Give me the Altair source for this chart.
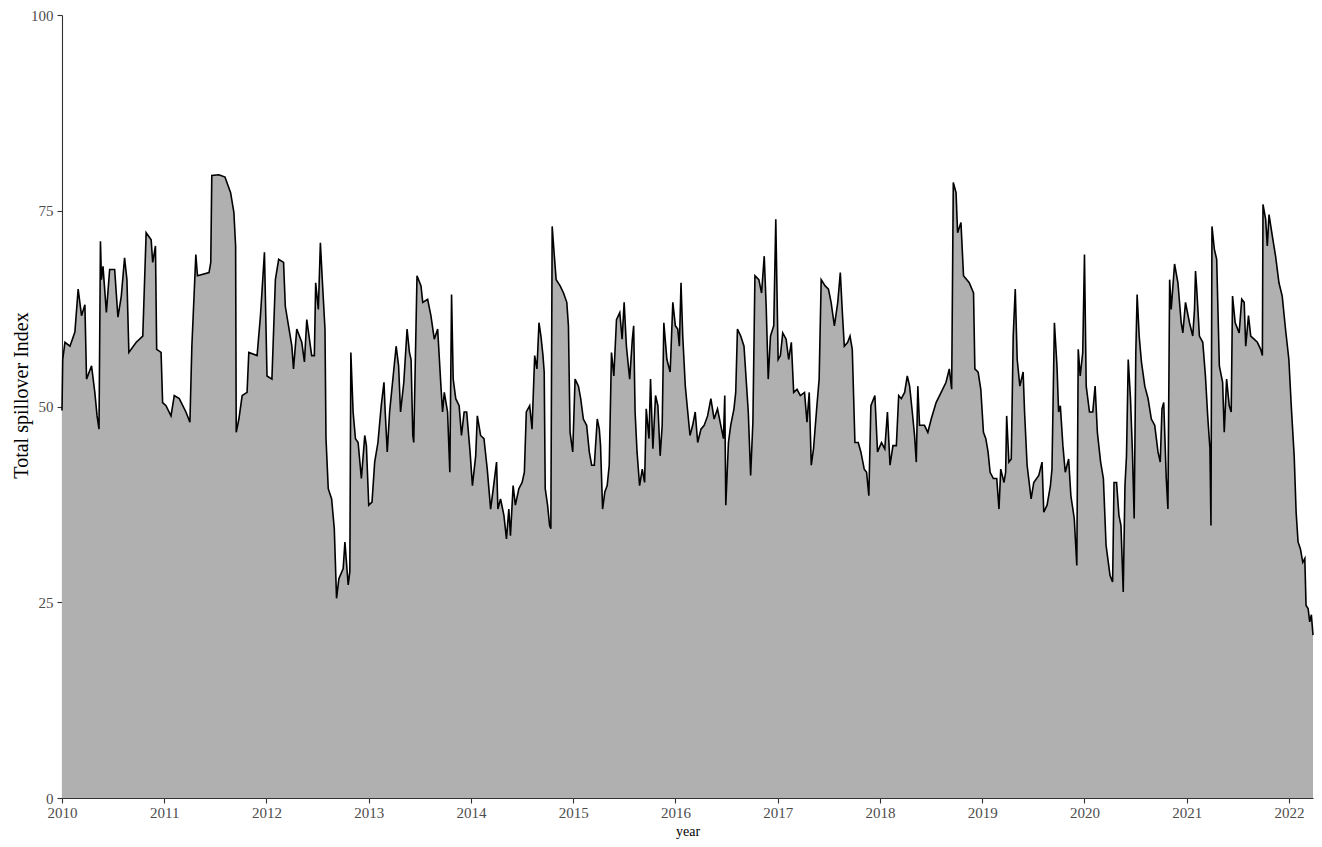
import altair as alt
import pandas as pd

# decimal year of each reading
years = [
    2010.000, 2010.007, 2010.029, 2010.078, 2010.126, 2010.158, 2010.191, 2010.224, 2010.240, 2010.289,
    2010.321, 2010.343, 2010.362, 2010.376, 2010.386, 2010.401, 2010.434, 2010.466, 2010.515, 2010.547,
    2010.580, 2010.612, 2010.635, 2010.654, 2010.726, 2010.790, 2010.823, 2010.872, 2010.887, 2010.914,
    2010.926, 2010.969, 2010.984, 2011.017, 2011.066, 2011.098, 2011.147, 2011.212, 2011.251, 2011.270,
    2011.309, 2011.325, 2011.438, 2011.455, 2011.465, 2011.535, 2011.594, 2011.649, 2011.681, 2011.698,
    2011.704, 2011.730, 2011.762, 2011.810, 2011.827, 2011.908, 2011.941, 2011.980, 2012.005, 2012.053,
    2012.087, 2012.119, 2012.167, 2012.184, 2012.248, 2012.264, 2012.296, 2012.345, 2012.371, 2012.394,
    2012.442, 2012.468, 2012.481, 2012.507, 2012.527, 2012.549, 2012.572, 2012.582, 2012.604, 2012.637,
    2012.663, 2012.685, 2012.708, 2012.750, 2012.767, 2012.799, 2012.815, 2012.825, 2012.847, 2012.870,
    2012.896, 2012.928, 2012.961, 2012.977, 2013.000, 2013.032, 2013.058, 2013.090, 2013.122, 2013.149,
    2013.161, 2013.181, 2013.204, 2013.236, 2013.268, 2013.292, 2013.311, 2013.343, 2013.375, 2013.398,
    2013.414, 2013.431, 2013.440, 2013.472, 2013.511, 2013.528, 2013.576, 2013.608, 2013.641, 2013.674,
    2013.706, 2013.722, 2013.739, 2013.771, 2013.793, 2013.810, 2013.826, 2013.851, 2013.884, 2013.907,
    2013.933, 2013.958, 2013.991, 2014.014, 2014.046, 2014.062, 2014.094, 2014.127, 2014.159, 2014.192,
    2014.218, 2014.250, 2014.263, 2014.289, 2014.322, 2014.347, 2014.370, 2014.386, 2014.412, 2014.434,
    2014.468, 2014.500, 2014.522, 2014.541, 2014.574, 2014.597, 2014.623, 2014.645, 2014.665, 2014.684,
    2014.704, 2014.716, 2014.726, 2014.749, 2014.769, 2014.781, 2014.794, 2014.813, 2014.833, 2014.872,
    2014.905, 2014.937, 2014.953, 2014.969, 2014.995, 2015.018, 2015.051, 2015.073, 2015.099, 2015.131,
    2015.157, 2015.180, 2015.206, 2015.235, 2015.255, 2015.267, 2015.287, 2015.309, 2015.332, 2015.352,
    2015.374, 2015.397, 2015.423, 2015.455, 2015.478, 2015.498, 2015.520, 2015.552, 2015.578, 2015.591,
    2015.605, 2015.624, 2015.649, 2015.675, 2015.698, 2015.714, 2015.741, 2015.756, 2015.779, 2015.805,
    2015.828, 2015.850, 2015.870, 2015.886, 2015.916, 2015.948, 2015.974, 2015.999, 2016.022, 2016.038,
    2016.054, 2016.071, 2016.096, 2016.120, 2016.142, 2016.168, 2016.193, 2016.217, 2016.249, 2016.281,
    2016.314, 2016.346, 2016.378, 2016.411, 2016.443, 2016.469, 2016.482, 2016.492, 2016.518, 2016.540,
    2016.572, 2016.589, 2016.606, 2016.638, 2016.670, 2016.693, 2016.712, 2016.735, 2016.757, 2016.777,
    2016.815, 2016.842, 2016.868, 2016.887, 2016.907, 2016.929, 2016.961, 2016.981, 2017.004, 2017.026,
    2017.049, 2017.082, 2017.107, 2017.133, 2017.156, 2017.189, 2017.221, 2017.262, 2017.286, 2017.308,
    2017.328, 2017.350, 2017.383, 2017.405, 2017.425, 2017.464, 2017.496, 2017.522, 2017.554, 2017.587,
    2017.612, 2017.632, 2017.651, 2017.684, 2017.707, 2017.729, 2017.755, 2017.787, 2017.813, 2017.846,
    2017.869, 2017.891, 2017.911, 2017.950, 2017.976, 2018.015, 2018.047, 2018.073, 2018.098, 2018.127,
    2018.160, 2018.183, 2018.209, 2018.241, 2018.267, 2018.290, 2018.316, 2018.338, 2018.355, 2018.370,
    2018.387, 2018.435, 2018.468, 2018.501, 2018.549, 2018.598, 2018.646, 2018.678, 2018.701, 2018.717,
    2018.744, 2018.759, 2018.792, 2018.817, 2018.873, 2018.915, 2018.928, 2018.960, 2018.986, 2019.012,
    2019.035, 2019.057, 2019.077, 2019.109, 2019.142, 2019.164, 2019.181, 2019.213, 2019.229, 2019.239,
    2019.261, 2019.284, 2019.303, 2019.323, 2019.342, 2019.368, 2019.400, 2019.414, 2019.439, 2019.478,
    2019.504, 2019.553, 2019.585, 2019.602, 2019.634, 2019.667, 2019.682, 2019.706, 2019.731, 2019.747,
    2019.764, 2019.789, 2019.812, 2019.845, 2019.867, 2019.900, 2019.925, 2019.939, 2019.958, 2019.983,
    2020.000, 2020.017, 2020.049, 2020.081, 2020.104, 2020.126, 2020.158, 2020.185, 2020.211, 2020.250,
    2020.275, 2020.289, 2020.314, 2020.337, 2020.357, 2020.379, 2020.396, 2020.411, 2020.428, 2020.450,
    2020.469, 2020.486, 2020.502, 2020.515, 2020.535, 2020.557, 2020.590, 2020.622, 2020.654, 2020.687,
    2020.719, 2020.741, 2020.758, 2020.775, 2020.800, 2020.816, 2020.833, 2020.848, 2020.881, 2020.914,
    2020.946, 2020.962, 2020.988, 2021.027, 2021.059, 2021.076, 2021.086, 2021.098, 2021.124, 2021.157,
    2021.183, 2021.205, 2021.227, 2021.237, 2021.247, 2021.270, 2021.293, 2021.319, 2021.351, 2021.367,
    2021.390, 2021.416, 2021.435, 2021.448, 2021.474, 2021.513, 2021.538, 2021.562, 2021.577, 2021.604,
    2021.626, 2021.659, 2021.691, 2021.723, 2021.740, 2021.746, 2021.772, 2021.788, 2021.805, 2021.837,
    2021.869, 2021.902, 2021.934, 2021.966, 2021.999, 2022.024, 2022.051, 2022.070, 2022.089, 2022.112,
    2022.135, 2022.155, 2022.167, 2022.187, 2022.203, 2022.219, 2022.235,
]

# total spillover index at each reading
spillover = [
    49.5, 56.0, 58.2, 57.7, 59.5, 65.0, 61.6, 63.0, 53.5, 55.2,
    51.8, 48.8, 47.1, 71.1, 66.2, 67.9, 62.0, 67.5, 67.5, 61.4,
    64.1, 69.0, 66.2, 56.9, 58.2, 59.0, 72.2, 71.3, 68.4, 70.5,
    57.3, 56.9, 50.5, 50.1, 48.8, 51.4, 51.0, 49.3, 48.0, 57.7,
    69.4, 66.7, 67.1, 68.4, 79.5, 79.6, 79.3, 77.3, 74.8, 70.5,
    46.7, 48.4, 51.4, 51.8, 56.9, 56.5, 61.6, 69.7, 53.9, 53.5,
    66.2, 68.8, 68.4, 62.8, 57.7, 54.8, 59.9, 58.2, 55.7, 61.1,
    56.5, 56.5, 65.8, 62.4, 70.9, 65.4, 59.9, 45.9, 39.5, 38.2,
    34.4, 25.5, 28.0, 29.3, 32.7, 27.2, 28.9, 56.9, 49.3, 45.9,
    45.4, 40.8, 46.3, 45.0, 37.4, 37.8, 42.9, 45.4, 50.1, 53.1,
    49.3, 44.2, 49.3, 53.5, 57.7, 55.2, 49.3, 53.1, 59.9, 56.9,
    56.0, 46.3, 45.4, 66.7, 65.4, 63.3, 63.7, 61.6, 58.6, 59.9,
    52.6, 49.3, 51.8, 49.3, 41.6, 64.3, 53.5, 51.0, 50.1, 46.3,
    49.3, 49.3, 44.2, 39.9, 43.7, 48.8, 46.3, 45.9, 42.0, 36.9,
    39.5, 42.9, 36.9, 38.2, 36.1, 33.1, 36.9, 33.5, 39.9, 37.4,
    39.5, 40.3, 41.6, 49.3, 50.1, 47.1, 56.5, 54.8, 60.7, 59.0,
    56.5, 54.4, 39.5, 37.4, 34.8, 34.4, 73.0, 69.6, 66.2, 65.4,
    64.5, 63.3, 60.3, 46.7, 44.2, 53.5, 52.6, 51.0, 48.4, 47.6,
    44.2, 42.5, 42.5, 48.4, 47.1, 45.0, 36.9, 39.1, 39.9, 42.5,
    56.9, 53.9, 61.1, 62.0, 58.6, 63.3, 57.7, 53.5, 58.6, 60.3,
    49.3, 44.2, 39.9, 42.0, 40.3, 49.7, 45.9, 53.5, 44.6, 51.4,
    50.1, 43.7, 47.6, 60.7, 56.0, 54.4, 63.3, 60.3, 59.9, 57.7,
    65.8, 59.0, 52.6, 49.3, 46.3, 47.6, 49.3, 45.4, 47.1, 47.6,
    48.8, 51.0, 48.4, 49.7, 47.6, 45.9, 51.4, 37.4, 45.4, 47.6,
    49.7, 51.8, 59.9, 59.0, 57.7, 53.1, 49.3, 41.2, 48.0, 66.7,
    66.2, 64.5, 69.2, 62.8, 53.5, 59.0, 60.3, 73.9, 56.0, 56.5,
    59.4, 58.6, 56.0, 58.2, 51.8, 52.2, 51.4, 51.8, 48.0, 51.8,
    42.5, 44.6, 50.1, 53.5, 66.2, 65.4, 65.0, 63.3, 60.3, 63.3,
    67.1, 62.0, 57.7, 58.2, 59.0, 57.3, 45.4, 45.4, 44.2, 42.0,
    41.6, 38.6, 50.1, 51.4, 44.2, 45.4, 44.6, 49.3, 42.5, 45.0,
    45.0, 51.4, 51.0, 51.8, 53.9, 52.6, 49.3, 46.3, 42.9, 52.6,
    47.6, 47.6, 46.7, 48.4, 50.5, 51.8, 53.1, 54.8, 52.2, 78.6,
    77.3, 72.2, 73.5, 66.7, 65.8, 64.5, 54.8, 54.4, 52.2, 46.7,
    45.9, 44.2, 41.6, 40.8, 40.8, 36.9, 42.0, 40.3, 41.6, 48.8,
    42.9, 43.3, 59.0, 65.0, 56.0, 52.6, 54.4, 49.3, 42.5, 38.2,
    40.3, 41.2, 42.9, 36.5, 37.4, 39.9, 42.0, 60.7, 55.2, 49.3,
    50.1, 45.0, 41.6, 43.3, 38.6, 35.7, 29.7, 57.3, 53.9, 56.9,
    69.4, 52.6, 49.3, 49.3, 52.6, 46.7, 42.9, 40.8, 32.3, 28.4,
    27.6, 40.3, 40.3, 36.1, 34.8, 26.3, 39.9, 43.7, 56.0, 51.0,
    44.2, 35.7, 56.9, 64.3, 59.0, 55.7, 52.6, 51.0, 48.4, 47.6,
    44.2, 42.9, 49.7, 50.5, 40.8, 36.9, 66.2, 62.4, 68.2, 65.8,
    60.7, 59.4, 63.3, 60.7, 59.0, 62.4, 67.3, 65.0, 59.0, 58.2,
    53.9, 48.8, 44.6, 34.8, 73.0, 70.1, 68.8, 55.2, 53.1, 46.7,
    53.5, 50.1, 49.3, 64.1, 60.7, 59.4, 63.7, 63.3, 57.7, 61.6,
    59.0, 58.6, 58.2, 57.3, 56.5, 75.8, 73.9, 70.5, 74.5, 71.8,
    69.2, 65.8, 64.1, 59.9, 56.0, 49.7, 43.7, 36.5, 32.7, 31.8,
    30.1, 30.6, 24.6, 24.2, 22.5, 23.4, 20.8,
]

x_ticks = list(range(2010, 2023))
y_ticks = [0, 25, 50, 75, 100]

df = pd.DataFrame({"year": years, "spillover": spillover})

FONT = "Liberation Serif"

x_enc = alt.X(
    "year:Q",
    title="year",
    scale=alt.Scale(domain=[2010, 2022.235], nice=False, zero=False),
    axis=alt.Axis(
        values=x_ticks, format="d", grid=False, domain=True, domainColor="#333333",
        domainWidth=1.1, tickColor="#333333", tickSize=5, tickWidth=1.1,
        labelFont=FONT, labelFontSize=15, labelColor="#4d4d4d", labelPadding=2,
        labelFlush=False, titleFont=FONT, titleFontSize=14, titleFontWeight="normal",
        titleColor="#000000", titleY=40.5, titleBaseline="bottom",
    ),
)
y_enc = alt.Y(
    "spillover:Q",
    title="Total spillover Index",
    scale=alt.Scale(domain=[0, 100], nice=False),
    axis=alt.Axis(
        values=y_ticks, grid=False, domain=True, domainColor="#333333",
        domainWidth=1.1, tickColor="#333333", tickSize=5, tickWidth=1.1,
        labelFont=FONT, labelFontSize=15, labelColor="#4d4d4d", labelPadding=4,
        titleFont=FONT, titleFontSize=20, titleFontWeight="normal",
        titleColor="#000000", titleX=-31, titleY=380, titleAlign="center",
        titleAngle=270, titleBaseline="bottom",
    ),
)

area = alt.Chart(df).mark_area(color="#b0b0b0", opacity=1).encode(x=x_enc, y=y_enc)
line = alt.Chart(df).mark_line(color="#000000", strokeWidth=1.6).encode(x="year:Q", y="spillover:Q")

chart = (
    alt.layer(area, line)
    .properties(
        width=1251,
        height=783,
        background="white",
        autosize=alt.AutoSizeParams(type="none"),
        padding={"left": 54, "top": 7, "right": 1, "bottom": 41},
    )
    .configure_view(strokeWidth=0, stroke="transparent")
)

chart.save("out.html", embed_options={"renderer": "svg", "actions": False})
